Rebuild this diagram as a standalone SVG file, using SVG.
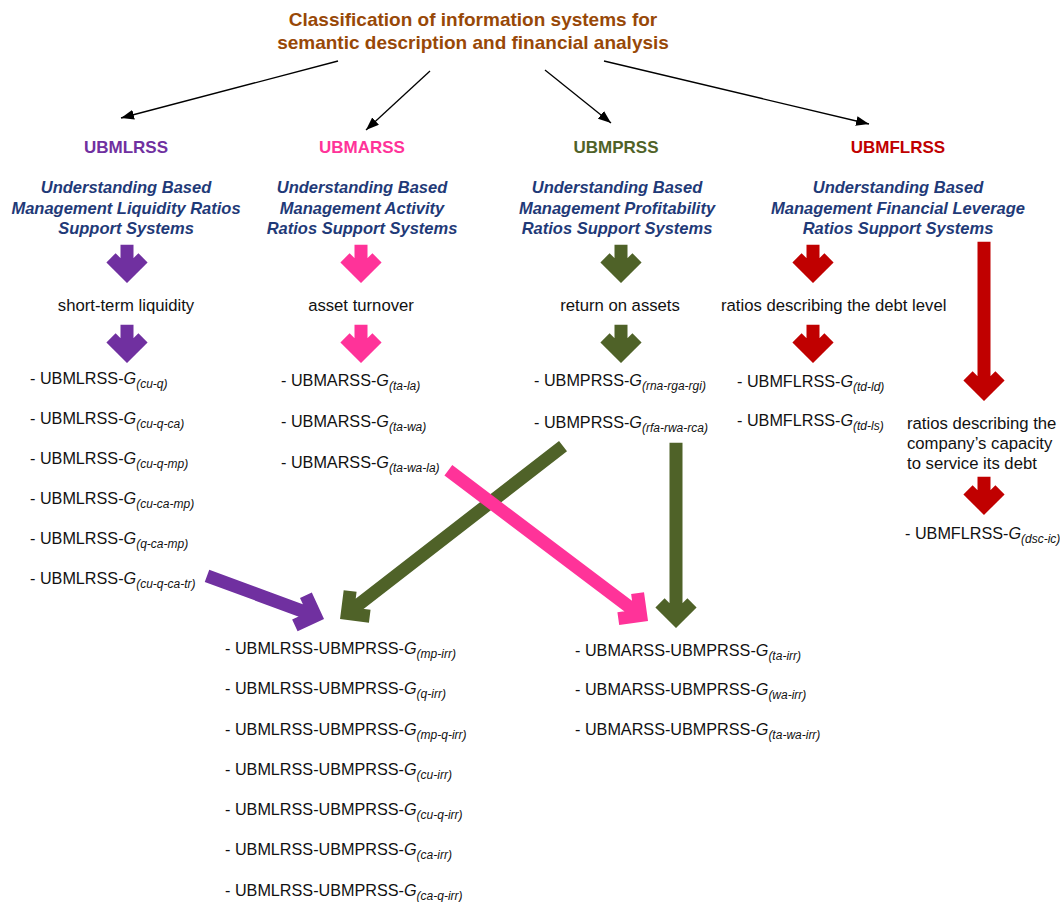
<svg xmlns="http://www.w3.org/2000/svg" xmlns:xlink="http://www.w3.org/1999/xlink" width="1060" height="902" viewBox="0 0 1060 902">
<style>
text{font-family:"Liberation Sans",Arial,Helvetica,sans-serif}
.title{font-size:19px;font-weight:bold;fill:#984807;text-anchor:middle}
.hd{font-size:17px;font-weight:bold;text-anchor:middle}
.ds{font-size:16.5px;font-weight:bold;font-style:italic;fill:#1F3A78;text-anchor:middle}
.t{font-size:16.2px;fill:#111}
.m{font-size:16.7px}
.tc{text-anchor:middle}
.g{font-style:italic}
.s{font-style:italic;font-size:12px}
.ar{fill:none;stroke-width:13;stroke-linejoin:miter;stroke-miterlimit:10;stroke-linecap:butt}
.pu{stroke:#7030A0}
.pk{stroke:#FF3399}
.gr{stroke:#4F6228}
.rd{stroke:#C00000}
.thin{stroke:#000;stroke-width:1.3;fill:none;marker-end:url(#ah)}
</style>
<defs>
<marker id="ah" markerUnits="userSpaceOnUse" markerWidth="13" markerHeight="10" refX="13" refY="5" orient="auto">
<path d="M0,0L13,5L0,10z" fill="#000"/>
</marker>
<path id="sa" d="M0,-29V0M-16,-16L0,0L16,-16"/>
</defs>

<g id="title">
<text class="title" x="473" y="26">Classification of information systems for</text>
<text class="title" x="473" y="49">semantic description and financial analysis</text>
</g>

<g id="col-ubmlrss">
<text class="hd" x="126" y="153" fill="#7030A0">UBMLRSS</text>
<text class="ds" x="126" y="193">Understanding Based</text>
<text class="ds" x="126" y="213.5">Management Liquidity Ratios</text>
<text class="ds" x="126" y="234">Support Systems</text>
<use xlink:href="#sa" href="#sa" class="ar pu" transform="translate(127,273.8)"/>
<text class="t m tc" x="126" y="311">short-term liquidity</text>
<use xlink:href="#sa" href="#sa" class="ar pu" transform="translate(127,353.8)"/>
<text class="t" x="30" y="384">- UBMLRSS-<tspan class="g">G</tspan><tspan class="s" dy="4">(cu-q)</tspan></text>
<text class="t" x="30" y="424">- UBMLRSS-<tspan class="g">G</tspan><tspan class="s" dy="4">(cu-q-ca)</tspan></text>
<text class="t" x="30" y="464">- UBMLRSS-<tspan class="g">G</tspan><tspan class="s" dy="4">(cu-q-mp)</tspan></text>
<text class="t" x="30" y="504">- UBMLRSS-<tspan class="g">G</tspan><tspan class="s" dy="4">(cu-ca-mp)</tspan></text>
<text class="t" x="30" y="544">- UBMLRSS-<tspan class="g">G</tspan><tspan class="s" dy="4">(q-ca-mp)</tspan></text>
<text class="t" x="30" y="584">- UBMLRSS-<tspan class="g">G</tspan><tspan class="s" dy="4">(cu-q-ca-tr)</tspan></text>
</g>

<g id="col-ubmarss">
<text class="hd" x="362" y="153" fill="#FF3399">UBMARSS</text>
<text class="ds" x="362" y="193">Understanding Based</text>
<text class="ds" x="362" y="213.5">Management Activity</text>
<text class="ds" x="362" y="234">Ratios Support Systems</text>
<use xlink:href="#sa" href="#sa" class="ar pk" transform="translate(361,273.8)"/>
<text class="t m tc" x="361" y="311">asset turnover</text>
<use xlink:href="#sa" href="#sa" class="ar pk" transform="translate(361,353.8)"/>
<text class="t" x="281" y="386">- UBMARSS-<tspan class="g">G</tspan><tspan class="s" dy="4">(ta-la)</tspan></text>
<text class="t" x="281" y="427">- UBMARSS-<tspan class="g">G</tspan><tspan class="s" dy="4">(ta-wa)</tspan></text>
<text class="t" x="281" y="468">- UBMARSS-<tspan class="g">G</tspan><tspan class="s" dy="4">(ta-wa-la)</tspan></text>
</g>

<g id="col-ubmprss">
<text class="hd" x="616" y="153" fill="#4F6228">UBMPRSS</text>
<text class="ds" x="617" y="193">Understanding Based</text>
<text class="ds" x="617" y="213.5">Management Profitability</text>
<text class="ds" x="617" y="234">Ratios Support Systems</text>
<use xlink:href="#sa" href="#sa" class="ar gr" transform="translate(621,273.8)"/>
<text class="t m tc" x="620" y="311">return on assets</text>
<use xlink:href="#sa" href="#sa" class="ar gr" transform="translate(621,353.8)"/>
<text class="t" x="534" y="386">- UBMPRSS-<tspan class="g">G</tspan><tspan class="s" dy="4">(rna-rga-rgi)</tspan></text>
<text class="t" x="534" y="428">- UBMPRSS-<tspan class="g">G</tspan><tspan class="s" dy="4">(rfa-rwa-rca)</tspan></text>
</g>

<g id="col-ubmflrss">
<text class="hd" x="898" y="153" fill="#C00000">UBMFLRSS</text>
<text class="ds" x="898" y="193">Understanding Based</text>
<text class="ds" x="898" y="213.5">Management Financial Leverage</text>
<text class="ds" x="898" y="234">Ratios Support Systems</text>
<use xlink:href="#sa" href="#sa" class="ar rd" transform="translate(813,273.8)"/>
<text class="t m" x="721" y="311">ratios describing the debt level</text>
<use xlink:href="#sa" href="#sa" class="ar rd" transform="translate(813,353.8)"/>
<text class="t" x="737" y="387">- UBMFLRSS-<tspan class="g">G</tspan><tspan class="s" dy="4">(td-ld)</tspan></text>
<text class="t" x="737" y="426">- UBMFLRSS-<tspan class="g">G</tspan><tspan class="s" dy="4">(td-ls)</tspan></text>
<path class="ar rd" d="M0,-150V0M-16,-16L0,0L16,-16" transform="translate(984,391.8)"/>
<text class="t m" x="907" y="429">ratios describing the</text>
<text class="t m" x="907" y="449">company’s capacity</text>
<text class="t m" x="907" y="469">to service its debt</text>
<use xlink:href="#sa" href="#sa" class="ar rd" transform="translate(984,505.8)"/>
<text class="t" x="905" y="539">- UBMFLRSS-<tspan class="g">G</tspan><tspan class="s" dy="4">(dsc-ic)</tspan></text>
</g>

<g id="combined-ubmlrss-ubmprss">
<text class="t" x="225" y="654">- UBMLRSS-UBMPRSS-<tspan class="g">G</tspan><tspan class="s" dy="4">(mp-irr)</tspan></text>
<text class="t" x="225" y="694">- UBMLRSS-UBMPRSS-<tspan class="g">G</tspan><tspan class="s" dy="4">(q-irr)</tspan></text>
<text class="t" x="225" y="735">- UBMLRSS-UBMPRSS-<tspan class="g">G</tspan><tspan class="s" dy="4">(mp-q-irr)</tspan></text>
<text class="t" x="225" y="775">- UBMLRSS-UBMPRSS-<tspan class="g">G</tspan><tspan class="s" dy="4">(cu-irr)</tspan></text>
<text class="t" x="225" y="815">- UBMLRSS-UBMPRSS-<tspan class="g">G</tspan><tspan class="s" dy="4">(cu-q-irr)</tspan></text>
<text class="t" x="225" y="855">- UBMLRSS-UBMPRSS-<tspan class="g">G</tspan><tspan class="s" dy="4">(ca-irr)</tspan></text>
<text class="t" x="225" y="896">- UBMLRSS-UBMPRSS-<tspan class="g">G</tspan><tspan class="s" dy="4">(ca-q-irr)</tspan></text>
</g>

<g id="combined-ubmarss-ubmprss">
<text class="t" x="575" y="656">- UBMARSS-UBMPRSS-<tspan class="g">G</tspan><tspan class="s" dy="4">(ta-irr)</tspan></text>
<text class="t" x="575" y="695">- UBMARSS-UBMPRSS-<tspan class="g">G</tspan><tspan class="s" dy="4">(wa-irr)</tspan></text>
<text class="t" x="575" y="735">- UBMARSS-UBMPRSS-<tspan class="g">G</tspan><tspan class="s" dy="4">(ta-wa-irr)</tspan></text>
</g>

<g id="connectors">
<line class="thin" x1="338" y1="61" x2="121" y2="118"/>
<line class="thin" x1="430" y1="71" x2="366" y2="130"/>
<line class="thin" x1="545" y1="70" x2="611" y2="123"/>
<line class="thin" x1="604" y1="61" x2="869" y2="124"/>
<path class="ar pu" d="M0,-115.5V0M-16,-16L0,0L16,-16" transform="translate(315.4,615.8) rotate(-69.8)"/>
<path class="ar gr" d="M0,-273V0M-16,-16L0,0L16,-16" transform="translate(347.3,613.4) rotate(52.2)"/>
<path class="ar gr" d="M0,-176V0M-16,-16L0,0L16,-16" transform="translate(676,618.8)"/>
<path class="ar pk" d="M0,-241V0M-16,-16L0,0L16,-16" transform="translate(640.7,615.5) rotate(-52.95)"/>
</g>
</svg>
